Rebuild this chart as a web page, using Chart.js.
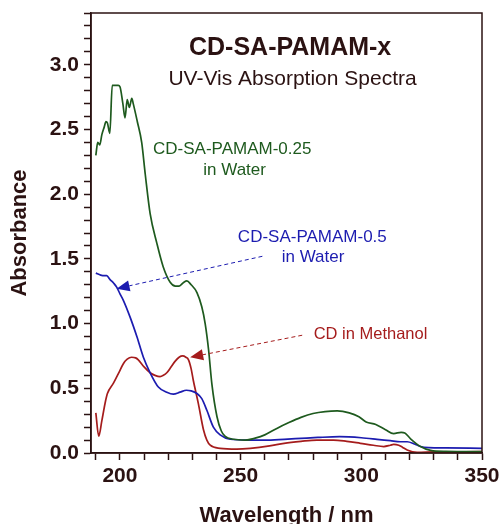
<!DOCTYPE html>
<html>
<head>
<meta charset="utf-8">
<script src="https://cdn.jsdelivr.net/npm/chart.js@4/dist/chart.umd.min.js"></script>
<style>
  html, body { margin: 0; padding: 0; background: #fff; }
  #wrap { width: 500px; height: 524px; }
</style>
</head>
<body>
<div id="wrap"><canvas id="myChart" width="500" height="524"></canvas></div>
<script>
// CD-SA-PAMAM-0.25 in water
const wl025 = [190, 190.8, 191.6, 192.5, 193.5, 194.2, 194.8, 195.8, 196.8, 199.3, 200, 201.2, 202.1, 203, 203.9, 204.9, 205.5, 207.2, 209, 210.5, 212.5, 215.3, 217.9, 220.8, 223, 224.5, 226.5, 227.7, 229.5, 231.9, 233.9, 235.3, 236.7, 238.1, 240.2, 242, 243.5, 247, 252, 256, 260, 265, 270, 275, 280, 285, 290, 295, 299, 302, 306, 310, 313.4, 316.5, 318, 320.4, 324.5, 328.7, 335, 350];
const abs025 = [2.30, 2.40, 2.38, 2.46, 2.52, 2.56, 2.55, 2.47, 2.84, 2.84, 2.83, 2.70, 2.59, 2.73, 2.67, 2.74, 2.70, 2.56, 2.40, 2.15, 1.85, 1.62, 1.44, 1.32, 1.29, 1.29, 1.32, 1.33, 1.30, 1.24, 1.13, 1.00, 0.80, 0.53, 0.28, 0.17, 0.13, 0.106, 0.10, 0.115, 0.14, 0.19, 0.235, 0.275, 0.305, 0.32, 0.325, 0.31, 0.28, 0.24, 0.22, 0.18, 0.15, 0.16, 0.155, 0.11, 0.05, 0.02, 0.012, 0.01];

// CD-SA-PAMAM-0.5 in water
const wl05 = [190, 192, 193.5, 194.5, 195.9, 197.5, 198.7, 200, 201.4, 204.2, 207, 209.7, 212.5, 215.9, 219.4, 222.1, 224.9, 227.5, 229.5, 231.9, 233.9, 236, 238.7, 241.5, 245.7, 252.6, 260, 268, 275, 282, 291, 300, 306.5, 312, 316.2, 319, 322, 324.5, 328, 335, 350];
const abs05 = [1.39, 1.375, 1.37, 1.37, 1.34, 1.31, 1.28, 1.23, 1.18, 1.05, 0.90, 0.74, 0.62, 0.51, 0.47, 0.455, 0.47, 0.485, 0.48, 0.46, 0.42, 0.33, 0.20, 0.14, 0.106, 0.10, 0.10, 0.106, 0.113, 0.12, 0.126, 0.118, 0.106, 0.095, 0.087, 0.087, 0.07, 0.05, 0.042, 0.04, 0.036];

// CD in methanol
const wlCD = [190, 191.2, 192.5, 194, 194.8, 197.3, 199.5, 201.4, 203, 204.8, 206.5, 207.6, 210, 212.5, 214.5, 216.6, 218, 219.4, 221, 222.9, 224.5, 226, 227.3, 228.4, 229.5, 230.4, 232.5, 234.6, 236, 237.4, 241.5, 248.4, 254, 262, 268, 275, 281.6, 288.5, 294, 299.6, 305, 309.3, 312, 313.4, 315.5, 317, 319, 323.1, 330, 350];
const absCD = [0.31, 0.13, 0.25, 0.40, 0.46, 0.54, 0.62, 0.69, 0.725, 0.74, 0.735, 0.72, 0.665, 0.62, 0.60, 0.59, 0.60, 0.62, 0.66, 0.71, 0.74, 0.75, 0.74, 0.72, 0.65, 0.56, 0.38, 0.18, 0.10, 0.06, 0.036, 0.03, 0.036, 0.055, 0.075, 0.09, 0.10, 0.10, 0.09, 0.075, 0.06, 0.05, 0.06, 0.067, 0.06, 0.045, 0.023, 0.005, 0.008, 0.01];

const xTicks = [190, 200, 210, 220, 230, 240, 250, 260, 270, 280, 290, 300, 310, 320, 330, 340, 350];

const axisColor = '#2b1212';
const green = '#1e5a1e';
const blue = '#1c1cb0';
const red = '#a51c1c';

function pts(xs, ys) {
  return xs.map((x, i) => ({x: x, y: ys[i]}));
}

// labels and arrows, anchored in data units
const notes = [
  {text: 'CD-SA-PAMAM-x', x: 270.5, y: 3.073, color: axisColor, font: 'bold 25px "Liberation Sans", Arial, sans-serif'},
  {text: 'UV-Vis Absorption Spectra', x: 271.5, y: 2.842, color: axisColor, font: '21px "Liberation Sans", Arial, sans-serif'},
  {text: 'CD-SA-PAMAM-0.25', x: 246.5, y: 2.309, color: green, font: '17px "Liberation Sans", Arial, sans-serif'},
  {text: 'in Water', x: 247.5, y: 2.147, color: green, font: '17px "Liberation Sans", Arial, sans-serif'},
  {text: 'CD-SA-PAMAM-0.5', x: 279.7, y: 1.629, color: blue, font: '17px "Liberation Sans", Arial, sans-serif'},
  {text: 'in Water', x: 280, y: 1.475, color: blue, font: '17px "Liberation Sans", Arial, sans-serif'},
  {text: 'CD in Methanol', x: 303.8, y: 0.880, color: red, font: '16.5px "Liberation Sans", Arial, sans-serif'}
];
const arrows = [
  {from: [259, 1.52], to: [198.6, 1.27], color: blue},
  {from: [275.5, 0.91], to: [229.1, 0.74], color: red}
];

const extras = {
  id: 'extras',
  afterDatasetsDraw(chart) {
    const ctx = chart.ctx;
    const xs = chart.scales.x, ys = chart.scales.y;
    const a = chart.chartArea;
    ctx.save();
    ctx.strokeStyle = axisColor;
    ctx.lineWidth = 1.5;
    ctx.strokeRect(a.left, a.top, a.right - a.left, a.bottom - a.top);

    arrows.forEach(ar => {
      const x1 = xs.getPixelForValue(ar.from[0]), y1 = ys.getPixelForValue(ar.from[1]);
      const x2 = xs.getPixelForValue(ar.to[0]), y2 = ys.getPixelForValue(ar.to[1]);
      const ang = Math.atan2(y2 - y1, x2 - x1);
      const len = 13, hw = 5.5;
      const bx = x2 - len * Math.cos(ang), by = y2 - len * Math.sin(ang);
      ctx.strokeStyle = ar.color;
      ctx.lineWidth = 1;
      ctx.setLineDash([4, 3]);
      ctx.beginPath();
      ctx.moveTo(x1, y1);
      ctx.lineTo(bx, by);
      ctx.stroke();
      ctx.setLineDash([]);
      ctx.fillStyle = ar.color;
      ctx.beginPath();
      ctx.moveTo(x2, y2);
      ctx.lineTo(bx + hw * Math.sin(ang), by - hw * Math.cos(ang));
      ctx.lineTo(bx - hw * Math.sin(ang), by + hw * Math.cos(ang));
      ctx.closePath();
      ctx.fill();
    });

    ctx.textAlign = 'center';
    ctx.textBaseline = 'alphabetic';
    notes.forEach(n => {
      ctx.font = n.font;
      ctx.fillStyle = n.color;
      ctx.fillText(n.text, xs.getPixelForValue(n.x), ys.getPixelForValue(n.y));
    });
    ctx.restore();
  }
};

const ctx = document.getElementById('myChart').getContext('2d');
const chart = new Chart(ctx, {
  type: 'line',
  data: {
    datasets: [
      {label: 'CD-SA-PAMAM-0.25', data: pts(wl025, abs025), borderColor: green},
      {label: 'CD-SA-PAMAM-0.5', data: pts(wl05, abs05), borderColor: blue},
      {label: 'CD in Methanol', data: pts(wlCD, absCD), borderColor: red}
    ]
  },
  options: {
    responsive: false,
    animation: false,
    layout: {padding: {top: 13, right: 18, left: 0, bottom: 0}},
    elements: {
      point: {radius: 0},
      line: {borderWidth: 1.7, cubicInterpolationMode: 'monotone', fill: false}
    },
    plugins: {legend: {display: false}, tooltip: {enabled: false}},
    scales: {
      x: {
        type: 'linear',
        min: 188,
        max: 350,
        afterBuildTicks: s => { s.ticks = xTicks.map(v => ({value: v})); },
        afterFit: s => { s.height = 71; s.paddingLeft = 0; s.paddingRight = 0; },
        grid: {drawOnChartArea: false, color: axisColor, tickLength: 7, tickWidth: 1.5},
        border: {color: axisColor, width: 1.5},
        ticks: {
          autoSkip: false,
          maxRotation: 0,
          padding: 4,
          color: axisColor,
          font: {family: '"Liberation Sans", Arial, sans-serif', size: 21, weight: 'bold'},
          callback: v => (v % 50 === 0 ? String(v) : '')
        },
        title: {
          display: true,
          text: 'Wavelength / nm',
          color: axisColor,
          font: {family: '"Liberation Sans", Arial, sans-serif', size: 22, weight: 'bold', lineHeight: 0.7},
          padding: {top: 0, bottom: 0}
        }
      },
      y: {
        min: 0,
        max: 3.4,
        afterFit: s => { s.width = 91; s.paddingTop = 0; s.paddingBottom = 0; },
        grid: {drawOnChartArea: false, color: axisColor, tickLength: 7, tickWidth: 1.5},
        border: {color: axisColor, width: 1.5},
        ticks: {
          stepSize: 0.1,
          autoSkip: false,
          padding: 5,
          color: axisColor,
          font: {family: '"Liberation Sans", Arial, sans-serif', size: 21, weight: 'bold'},
          callback: v => (Math.round(v * 10) % 5 === 0 ? v.toFixed(1) : '')
        },
        title: {
          display: true,
          text: 'Absorbance',
          color: axisColor,
          font: {family: '"Liberation Sans", Arial, sans-serif', size: 22, weight: 'bold'},
          padding: {top: 7, bottom: 0}
        }
      }
    }
  },
  plugins: [extras]
});
</script>
</body>
</html>
